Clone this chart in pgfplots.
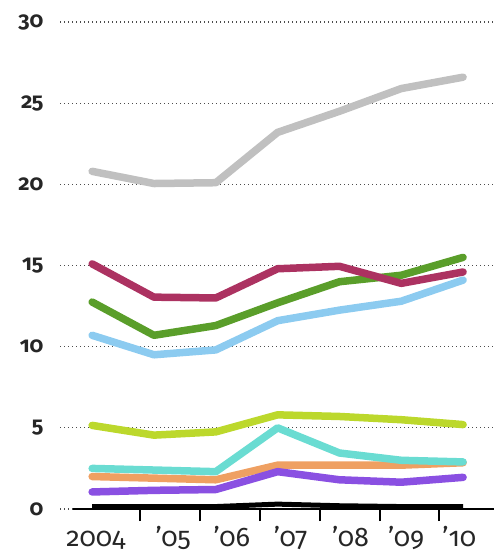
\documentclass[border=0pt]{standalone}
\usepackage{fontspec}
\setmainfont{Fira Sans}[Numbers=OldStyle]
\usepackage{pgfplots}
\pgfplotsset{compat=1.18}

\definecolor{cgray}{HTML}{C0C0C0}
\definecolor{ccrimson}{HTML}{AC3261}
\definecolor{cgreen}{HTML}{5A9E2A}
\definecolor{cblue}{HTML}{8CCBF0}
\definecolor{cyellow}{HTML}{BCD82C}
\definecolor{cteal}{HTML}{6ADCD2}
\definecolor{corange}{HTML}{EFA062}
\definecolor{cpurple}{HTML}{8A50E2}

\begin{document}
\begin{tikzpicture}
\useasboundingbox (0,0) rectangle (494bp,555bp);
\begin{axis}[
    at={(60bp,46bp)}, anchor=south west,
    width=434bp, height=487bp, scale only axis,
    xmin=-0.52, xmax=6.5,
    ymin=0, ymax=30,
    clip=false,
    axis x line*=bottom, axis y line*=left,
    x axis line style={draw=none},
    y axis line style={draw=none},
    ytick={0,5,10,15,20,25,30},
    ytick style={draw=none},
    yticklabel style={font=\fontsize{22}{22}\selectfont\bfseries, text=black!85, anchor=east, xshift=-1bp},
    ymajorgrids,
    grid style={black!70, line width=1.3bp, dash pattern=on 1.3bp off 2.7bp},
    xtick={0.77,1.74,2.71,3.68,4.65,5.61},
    xticklabels={},
    xtick style={draw=black, line width=1.8bp},
    tick align=outside,
    major tick length=12bp,
    extra x ticks={0.06,1.31,2.26,3.21,4.18,5.08,5.94},
    extra x tick labels={2004,'05,'06,'07,'08,'09,'10},
    extra x tick style={major tick length=0pt, xticklabel style={anchor=base, yshift=-37bp}},
    xticklabel style={font=\fontsize{27}{27}\selectfont, text=black!85},
    /pgf/number format/assume math mode=true,
    every axis plot/.append style={line width=7.5bp, line join=round, line cap=round},
]
% y = 0 line
\addplot[black, line width=1.8bp, line cap=butt] coordinates {(-0.31,0) (6.5,0)};
% gray
\addplot[cgray] coordinates {(0,20.8) (1,20.05) (2,20.1) (3,23.2) (4,24.5) (5,25.9) (6,26.6)};
% light blue
\addplot[cblue] coordinates {(0,10.7) (1,9.5) (2,9.8) (3,11.6) (4,12.25) (5,12.8) (6,14.1)};
% green
\addplot[cgreen] coordinates {(0,12.75) (1,10.7) (2,11.3) (3,12.7) (4,14.0) (5,14.4) (6,15.5)};
% crimson
\addplot[ccrimson] coordinates {(0,15.1) (1,13.05) (2,13.0) (3,14.8) (4,14.95) (5,13.9) (6,14.6)};
% yellow-green
\addplot[cyellow] coordinates {(0,5.15) (1,4.55) (2,4.75) (3,5.8) (4,5.7) (5,5.5) (6,5.2)};
% orange
\addplot[corange] coordinates {(0,2.0) (1,1.9) (2,1.8) (3,2.7) (4,2.7) (5,2.7) (6,2.85)};
% teal
\addplot[cteal] coordinates {(0,2.5) (1,2.4) (2,2.3) (3,5.0) (4,3.45) (5,3.0) (6,2.9)};
% purple
\addplot[cpurple] coordinates {(0,1.05) (1,1.15) (2,1.2) (3,2.3) (4,1.8) (5,1.65) (6,1.95)};
% black
\addplot[black, line width=5bp, line cap=butt] coordinates {(0,0.15) (1,0.15) (2,0.15) (3,0.3) (4,0.2) (5,0.15) (6,0.15)};
\end{axis}
\end{tikzpicture}
\end{document}
